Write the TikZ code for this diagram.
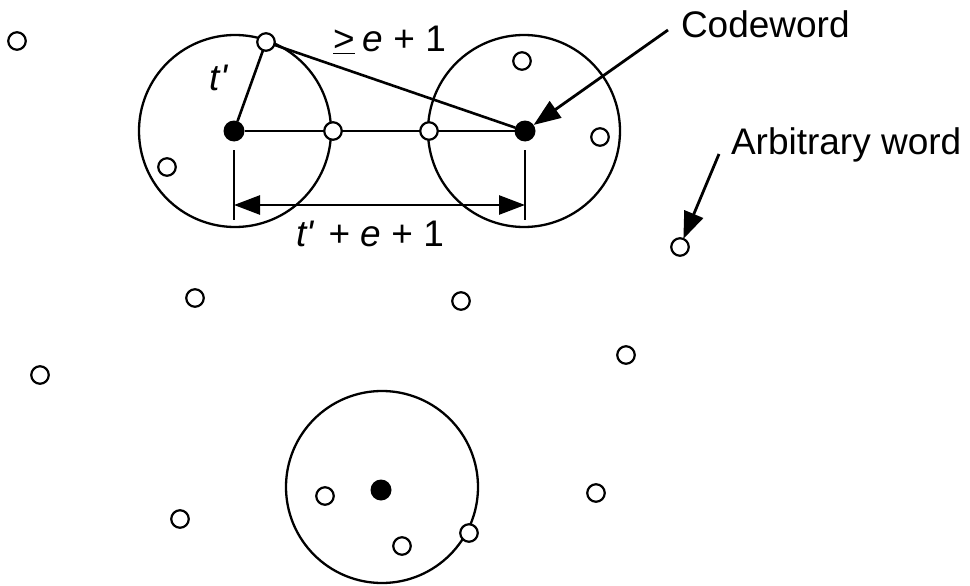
\documentclass[tikz,border=0pt]{standalone}
\usepackage{fontspec}
\setmainfont{Liberation Sans}
\usetikzlibrary{arrows.meta}
\begin{document}
\begin{tikzpicture}[x=1pt,y=-1pt,
  every node/.style={inner sep=0pt,outer sep=0pt},
  ball/.style={circle,draw,line width=2.3pt,minimum size=192pt},
  wdot/.style={circle,draw,fill=white,line width=2.2pt,minimum size=17.5pt},
  cdot/.style={circle,fill=black,minimum size=21pt},
  lbl/.style={font=\fontsize{37}{42}\selectfont},
  ln/.style={line width=2.6pt},
  arr/.style={line width=2.8pt,-{Triangle[length=27pt,width=20pt]}}]
\useasboundingbox (0,0) rectangle (970,586);
% balls
\node[ball] (b1) at (235,131) {};
\node[ball] (b2) at (524,131) {};
\node[ball] (b3) at (382,487) {};
% codewords
\node[cdot] (c1) at (234,131) {};
\node[cdot] (c2) at (525,131) {};
\node[cdot] (c3) at (381,490) {};
% words
\node[wdot] (top) at (266,42) {};
\node[wdot] (m1) at (333,131) {};
\node[wdot] (m2) at (429,131) {};
\node[wdot] (w1) at (167,167) {};
\node[wdot] (w2) at (522,61) {};
\node[wdot] (w3) at (600,137) {};
\node[wdot] (w4) at (680,247) {};
\node[wdot] (w5) at (17,41) {};
\node[wdot] (w6) at (195,298) {};
\node[wdot] (w7) at (461,301) {};
\node[wdot] (w8) at (626,355) {};
\node[wdot] (w9) at (40,375) {};
\node[wdot] (w10) at (596,493) {};
\node[wdot] (w11) at (180,519) {};
\node[wdot] (w12) at (325,496) {};
\node[wdot] (w13) at (402,546) {};
\node[wdot] (w14) at (469,533) {};
% connecting lines
\draw[ln] (c1) -- (top);
\draw[ln] (top) -- (c2);
\draw[ln] (c1) -- (m1);
\draw[ln] (m1) -- (m2);
\draw[ln] (m2) -- (c2);
% dimension
\coordinate (d1t) at (234,150);
\coordinate (d1b) at (234,220);
\coordinate (d2t) at (525,150);
\coordinate (d2b) at (525,220);
\coordinate (a1) at (234,205);
\coordinate (a2) at (525,205);
\draw[ln] (d1t) -- (d1b);
\draw[ln] (d2t) -- (d2b);
\draw[line width=2.6pt,{Triangle[length=26pt,width=19pt]}-{Triangle[length=26pt,width=19pt]}] (a1) -- (a2);
% labels
\node[lbl] (tl) at (219,78) {\textit{t\textquotesingle}};
\node[lbl,anchor=base west] (ge) at (333,52) {\underline{>}\hspace{8pt}\textit{e} + 1};
\node[lbl,anchor=base] (te) at (370,246) {\textit{t\textquotesingle}\hspace{4pt} + \textit{e} + 1};
\node[lbl,anchor=base west] (cw) at (681,38) {Codeword};
\node[lbl,anchor=base west] (aw) at (731,154) {Arbitrary word};
% arrows
\coordinate (cwa) at (668,30);
\coordinate (awa) at (719,154);
\draw[arr] (cwa) -- (c2);
\draw[arr] (awa) -- (w4);
\end{tikzpicture}
\end{document}
